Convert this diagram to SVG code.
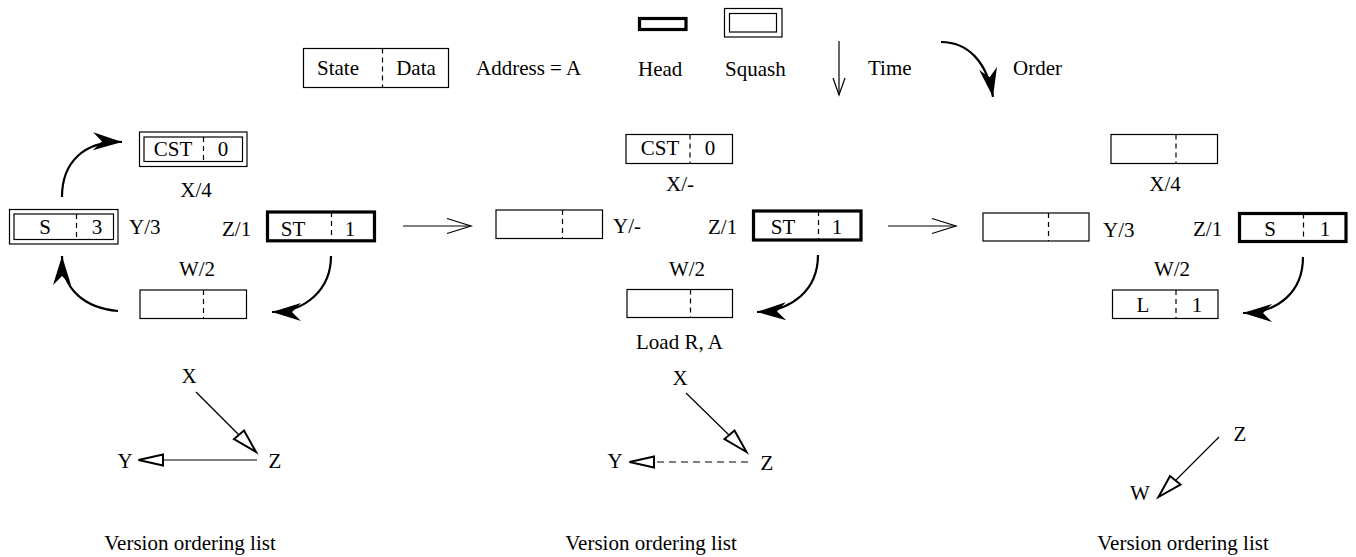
<svg xmlns="http://www.w3.org/2000/svg" width="1356" height="557" viewBox="0 0 1356 557">
<style>
text{font-family:"Liberation Serif","Times New Roman",serif;font-size:21px;fill:#000}
.m{text-anchor:middle}
.box{fill:#fff;stroke:#000;stroke-width:1.2}
.head{fill:#fff;stroke:#000;stroke-width:3.2}
.div{stroke:#000;stroke-width:1.2;stroke-dasharray:5 4;fill:none}
.curve{fill:none;stroke:#000;stroke-width:2.2;marker-end:url(#barb)}
.line{fill:none;stroke:#000;stroke-width:1.2}
.tri{fill:#fff;stroke:#000;stroke-width:2;stroke-linejoin:miter}
.dash{fill:none;stroke:#000;stroke-width:1.2;stroke-dasharray:7 5}
</style>
<defs>
<marker id="barb" markerUnits="userSpaceOnUse" markerWidth="40" markerHeight="30" viewBox="-30 -15 32 30" refX="0" refY="0" orient="auto" overflow="visible">
<path d="M0,0 L-29,-9 L-20,0 L-29,9 Z" fill="#000"/>
</marker>
</defs>

<g id="legend">
<g id="legend-cell">
<rect class="box" x="303.5" y="48.5" width="145" height="39"/>
<line class="div" x1="382.5" y1="48.5" x2="382.5" y2="87.5"/>
<text class="m" x="338" y="75">State</text>
<text class="m" x="416" y="75">Data</text>
</g>
<text x="476" y="75">Address = A</text>
<g id="legend-head">
<rect class="head" x="639.5" y="18.5" width="46.5" height="11"/>
<text x="638" y="76">Head</text>
</g>
<g id="legend-squash">
<rect class="box" x="724.5" y="8.5" width="57.5" height="28.5"/>
<rect class="box" x="729.5" y="13.5" width="47" height="18.5"/>
<text x="725" y="76">Squash</text>
</g>
<g id="legend-time">
<line class="line" x1="839" y1="41" x2="839" y2="95"/>
<polyline class="line" points="833,78 839,95 845,78"/>
<text x="868" y="75">Time</text>
</g>
<g id="legend-order">
<path class="curve" d="M941,42 C968,42 987,62 993,97"/>
<text x="1013" y="75">Order</text>
</g>
</g>

<!-- Panel 1 -->
<g id="p1-X">
<rect class="box" x="139.5" y="132" width="107.5" height="34.5"/>
<rect class="box" x="144" y="137" width="98.5" height="24.5"/>
<line class="div" x1="203.5" y1="137" x2="203.5" y2="161.5"/>
<text class="m" x="173" y="156">CST</text>
<text class="m" x="223" y="156">0</text>
<text class="m" x="196" y="197">X/4</text>
</g>
<g id="p1-Y">
<rect class="box" x="9.5" y="209.5" width="108.5" height="34.5"/>
<rect class="box" x="14" y="214" width="99.5" height="25.5"/>
<line class="div" x1="76.5" y1="214" x2="76.5" y2="239.5"/>
<text class="m" x="45" y="234">S</text>
<text class="m" x="97" y="234">3</text>
<text x="129" y="234">Y/3</text>
</g>
<g id="p1-Z">
<text x="222" y="236">Z/1</text>
<rect class="head" x="267.5" y="212" width="107" height="28.8"/>
<line class="div" x1="331.5" y1="212" x2="331.5" y2="240.8"/>
<text class="m" x="293" y="236">ST</text>
<text class="m" x="350" y="236">1</text>
</g>
<g id="p1-W">
<text class="m" x="197" y="276">W/2</text>
<rect class="box" x="140" y="290" width="106.5" height="28.5"/>
<line class="div" x1="203.5" y1="290" x2="203.5" y2="318.5"/>
</g>

<!-- Panel 2 -->
<g id="p2-X">
<rect class="box" x="626" y="134.5" width="106.5" height="29"/>
<line class="div" x1="690" y1="134.5" x2="690" y2="163.5"/>
<text class="m" x="660" y="155">CST</text>
<text class="m" x="710" y="155">0</text>
<text class="m" x="680" y="191">X/-</text>
</g>
<g id="p2-Y">
<rect class="box" x="496" y="210" width="106.5" height="28.5"/>
<line class="div" x1="562.5" y1="210" x2="562.5" y2="238.5"/>
<text x="613" y="233">Y/-</text>
</g>
<g id="p2-Z">
<text x="708" y="234">Z/1</text>
<rect class="head" x="753.5" y="211" width="107.5" height="29"/>
<line class="div" x1="818.5" y1="211" x2="818.5" y2="240"/>
<text class="m" x="783" y="234">ST</text>
<text class="m" x="837" y="234">1</text>
</g>
<g id="p2-W">
<text class="m" x="687" y="276">W/2</text>
<rect class="box" x="627" y="289.5" width="105.5" height="28"/>
<line class="div" x1="690.5" y1="289.5" x2="690.5" y2="317.5"/>
<text x="636" y="349">Load R, A</text>
</g>

<!-- Panel 3 -->
<g id="p3-X">
<rect class="box" x="1111" y="134.5" width="106.5" height="29"/>
<line class="div" x1="1176" y1="134.5" x2="1176" y2="163.5"/>
<text class="m" x="1165" y="191">X/4</text>
</g>
<g id="p3-Y">
<rect class="box" x="983" y="213" width="106" height="28"/>
<line class="div" x1="1048.5" y1="213" x2="1048.5" y2="241"/>
<text x="1103" y="237">Y/3</text>
</g>
<g id="p3-Z">
<text x="1193" y="236">Z/1</text>
<rect class="head" x="1239.5" y="213.5" width="106.5" height="28"/>
<line class="div" x1="1303.5" y1="213.5" x2="1303.5" y2="241.5"/>
<text class="m" x="1270" y="236">S</text>
<text class="m" x="1325" y="236">1</text>
</g>
<g id="p3-W">
<text class="m" x="1172" y="276">W/2</text>
<rect class="box" x="1112.5" y="290" width="105.5" height="28.5"/>
<line class="div" x1="1176" y1="290" x2="1176" y2="318.5"/>
<text class="m" x="1143" y="312">L</text>
<text class="m" x="1197" y="312">1</text>
</g>

<!-- Version graphs -->
<g id="v1">
<text class="m" x="189" y="383">X</text>
<text class="m" x="125" y="468">Y</text>
<text class="m" x="275" y="468">Z</text>
</g>
<g id="v2">
<text class="m" x="680" y="385">X</text>
<text class="m" x="615" y="468">Y</text>
<text class="m" x="767" y="470">Z</text>
</g>
<g id="v3">
<text class="m" x="1240" y="441">Z</text>
<text class="m" x="1140" y="500">W</text>
</g>
<g id="captions">
<text class="m" x="190" y="550">Version ordering list</text>
<text class="m" x="651" y="550">Version ordering list</text>
<text class="m" x="1183" y="550">Version ordering list</text>
</g>

<g id="connectors">
<!-- panel 1 cycle -->
<path class="curve" d="M62,197 C62,162 84,141 122,142"/>
<path class="curve" d="M118,311 C85,308 62,290 62,256"/>
<path class="curve" d="M331,256 C331,290 305,312 272,312"/>
<!-- panel 2 -->
<path class="curve" d="M818,255 C818,290 792,311 757,312"/>
<!-- panel 3 -->
<path class="curve" d="M1303,257 C1303,292 1278,313 1243,313"/>
<!-- time transitions -->
<line class="line" x1="403" y1="226" x2="471" y2="226"/>
<polyline class="line" points="447,218.5 471,226 447,233.5"/>
<line class="line" x1="888" y1="226" x2="956" y2="226"/>
<polyline class="line" points="932,218.5 956,226 932,233.5"/>
<!-- version graph 1 -->
<line class="line" x1="196" y1="392" x2="240" y2="436"/>
<polygon class="tri" points="256,452 234,439 244,430.5"/>
<line class="line" x1="257" y1="460" x2="163" y2="460"/>
<polygon class="tri" points="138.5,460 163,454.5 163,465.5"/>
<!-- version graph 2 -->
<line class="line" x1="686" y1="393" x2="730" y2="436"/>
<polygon class="tri" points="746.5,452 724.5,439 734.5,430.5"/>
<line class="dash" x1="748" y1="462" x2="654" y2="462"/>
<polygon class="tri" points="629.5,462 654,456.5 654,467.5"/>
<!-- version graph 3 -->
<line class="line" x1="1219" y1="437" x2="1175" y2="481"/>
<polygon class="tri" points="1158.5,497 1170,476 1180.5,484.5"/>
</g>
</svg>
